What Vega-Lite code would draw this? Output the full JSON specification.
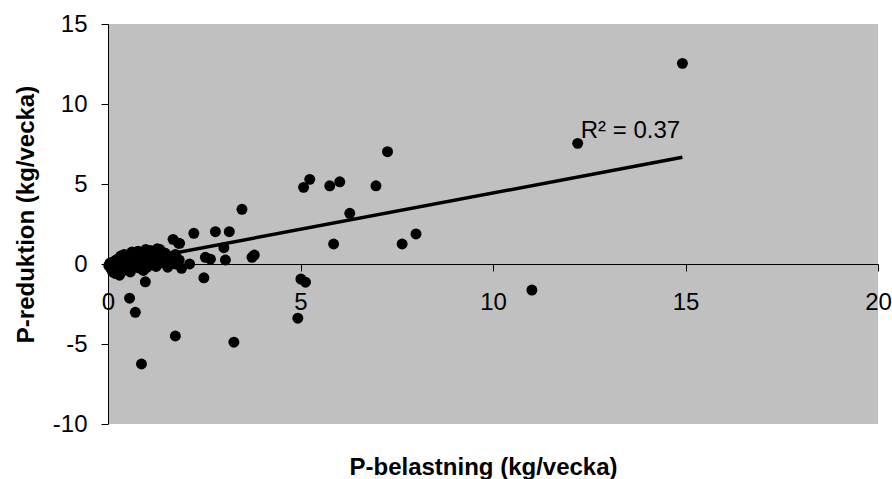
{
  "$schema": "https://vega.github.io/schema/vega-lite/v6.json",
  "width": 770,
  "height": 400,
  "autosize": "none",
  "padding": {"left": 108, "top": 24, "right": 14, "bottom": 55},
  "background": "white",
  "config": {
    "view": {"fill": "#C0C0C0", "stroke": null},
    "font": "Liberation Sans"
  },
  "datasets": {
    "points": [
      {"x": 14.92, "y": 12.54}, {"x": 12.2, "y": 7.54}, {"x": 11.01, "y": -1.63},
      {"x": 7.26, "y": 7.02}, {"x": 5.24, "y": 5.29}, {"x": 5.08, "y": 4.79},
      {"x": 5.76, "y": 4.89}, {"x": 6.02, "y": 5.14}, {"x": 6.96, "y": 4.89},
      {"x": 6.28, "y": 3.17}, {"x": 5.86, "y": 1.25}, {"x": 7.64, "y": 1.25},
      {"x": 8.0, "y": 1.88}, {"x": 5.01, "y": -0.94}, {"x": 5.13, "y": -1.14},
      {"x": 4.93, "y": -3.39}, {"x": 3.48, "y": 3.42}, {"x": 1.69, "y": 1.54},
      {"x": 1.86, "y": 1.29}, {"x": 2.23, "y": 1.92}, {"x": 2.79, "y": 2.02},
      {"x": 3.15, "y": 2.02}, {"x": 3.01, "y": 1.02}, {"x": 2.53, "y": 0.42},
      {"x": 3.05, "y": 0.25}, {"x": 3.74, "y": 0.42}, {"x": 3.8, "y": 0.56},
      {"x": 1.91, "y": -0.27}, {"x": 2.12, "y": 0.0}, {"x": 2.49, "y": -0.86},
      {"x": 0.97, "y": -1.11}, {"x": 0.56, "y": -2.14}, {"x": 0.71, "y": -3.02},
      {"x": 1.75, "y": -4.5}, {"x": 3.27, "y": -4.89}, {"x": 0.87, "y": -6.25},
      {"x": 0.02, "y": -0.1}, {"x": 0.05, "y": 0.05}, {"x": 0.08, "y": -0.3},
      {"x": 0.1, "y": 0.1}, {"x": 0.12, "y": -0.5}, {"x": 0.15, "y": -0.2},
      {"x": 0.18, "y": 0.2}, {"x": 0.2, "y": -0.6}, {"x": 0.22, "y": 0.0},
      {"x": 0.25, "y": 0.3}, {"x": 0.28, "y": -0.35}, {"x": 0.3, "y": 0.15},
      {"x": 0.35, "y": -0.1}, {"x": 0.38, "y": 0.4}, {"x": 0.4, "y": -0.4},
      {"x": 0.45, "y": 0.2}, {"x": 0.5, "y": 0.0}, {"x": 0.52, "y": 0.5},
      {"x": 0.55, "y": -0.3}, {"x": 0.6, "y": 0.3}, {"x": 0.65, "y": 0.6},
      {"x": 0.68, "y": -0.1}, {"x": 0.7, "y": 0.2}, {"x": 0.75, "y": 0.45},
      {"x": 0.8, "y": -0.25}, {"x": 0.85, "y": 0.7}, {"x": 0.9, "y": 0.1},
      {"x": 0.95, "y": 0.35}, {"x": 0.98, "y": 0.9}, {"x": 1.02, "y": -0.2},
      {"x": 1.05, "y": 0.5}, {"x": 1.1, "y": 0.85}, {"x": 1.15, "y": 0.2},
      {"x": 1.2, "y": 0.6}, {"x": 1.25, "y": -0.15}, {"x": 1.3, "y": 0.4},
      {"x": 1.35, "y": 0.9}, {"x": 1.4, "y": 0.1}, {"x": 1.45, "y": 0.55},
      {"x": 1.5, "y": 0.3}, {"x": 1.55, "y": -0.2}, {"x": 1.6, "y": 0.45},
      {"x": 1.65, "y": 0.15}, {"x": 1.75, "y": 0.6}, {"x": 1.85, "y": 0.25},
      {"x": 1.75, "y": 0.0}, {"x": 0.3, "y": -0.7}, {"x": 0.14, "y": -0.5},
      {"x": 1.83, "y": 1.3}, {"x": 1.49, "y": 0.67}, {"x": 2.66, "y": 0.3},
      {"x": 0.42, "y": 0.6}, {"x": 0.62, "y": 0.75}, {"x": 0.78, "y": 0.8},
      {"x": 0.33, "y": 0.5}, {"x": 0.58, "y": -0.5}, {"x": 1.0, "y": 0.05},
      {"x": 1.28, "y": 0.95}, {"x": 0.92, "y": -0.4}
    ],
    "trend": [{"x": 0, "y": -0.1}, {"x": 14.92, "y": 6.67}],
    "label": [{"x": 12.28, "y": 7.88, "t": "R² = 0.37"}]
  },
  "layer": [
    {
      "data": {"name": "points"},
      "mark": {"type": "point", "shape": "circle", "filled": true, "color": "black", "opacity": 1, "size": 120},
      "encoding": {
        "x": {
          "field": "x", "type": "quantitative",
          "scale": {"domain": [0, 20], "nice": false, "zero": false},
          "axis": {
            "title": "P-belastning (kg/vecka)",
            "titleFontSize": 24, "titleFontWeight": "bold", "titleColor": "black",
            "titleX": 375, "titleY": 191, "titleBaseline": "top", "titleAlign": "center",
            "offset": -160,
            "values": [0, 5, 10, 15, 20],
            "labelExpr": "'' + datum.value",
            "labelFontSize": 24, "labelColor": "black", "labelPadding": 19,
            "labelOverlap": false, "labelFlush": false, "labelBound": false,
            "tickColor": "black", "tickSize": 7, "domainColor": "black", "domainWidth": 1,
            "grid": false
          }
        },
        "y": {
          "field": "y", "type": "quantitative",
          "scale": {"domain": [-10, 15], "nice": false, "zero": false},
          "axis": {
            "title": "P-reduktion (kg/vecka)",
            "titleFontSize": 24, "titleFontWeight": "bold", "titleColor": "black",
            "titleX": -70, "titleY": 190,
            "values": [-10, -5, 0, 5, 10, 15],
            "labelExpr": "'' + datum.value",
            "labelFontSize": 24, "labelColor": "black", "labelPadding": 14,
            "labelOverlap": false, "labelFlush": false, "labelBound": false,
            "tickColor": "black", "tickSize": 7, "domainColor": "black", "domainWidth": 1,
            "grid": false
          }
        }
      }
    },
    {
      "data": {"name": "trend"},
      "mark": {"type": "line", "color": "black", "strokeWidth": 3.5},
      "encoding": {
        "x": {"field": "x", "type": "quantitative"},
        "y": {"field": "y", "type": "quantitative"}
      }
    },
    {
      "data": {"name": "label"},
      "mark": {"type": "text", "align": "left", "baseline": "alphabetic", "fontSize": 24, "color": "black"},
      "encoding": {
        "x": {"field": "x", "type": "quantitative"},
        "y": {"field": "y", "type": "quantitative"},
        "text": {"field": "t"}
      }
    }
  ]
}
